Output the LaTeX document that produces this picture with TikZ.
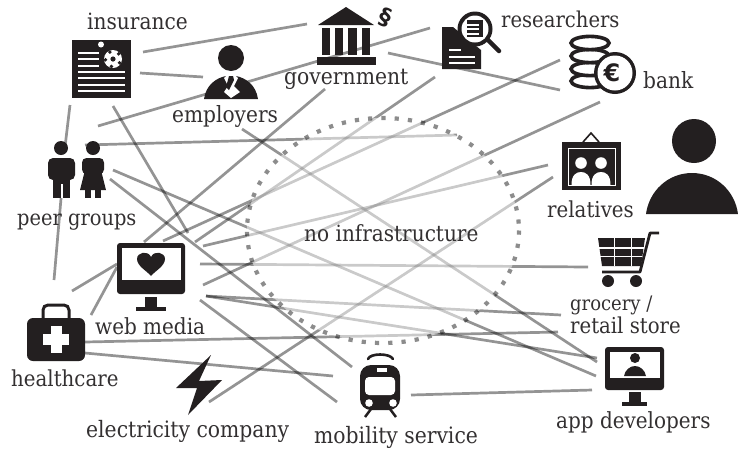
\documentclass[tikz,border=0pt]{standalone}
\usepackage{fontspec}
\setmainfont{DejaVu Serif Condensed}
\newfontfamily\symfont{DejaVu Sans}
\definecolor{ink}{HTML}{231F20}
\definecolor{labelink}{HTML}{333031}
\tikzset{
  link/.style={draw=black,opacity=.42,line width=2.7pt},
  haze/.style={fill=white,fill opacity=.5,draw=none},
  dotring/.style={draw=black,opacity=.45,line width=4.2pt,dash pattern=on 4.2pt off 9.1pt},
  solid ink/.style={fill=ink,draw=none},
  knock/.style={fill=white,draw=none},
  lab/.style={text=labelink,inner sep=0pt,anchor=base west,font=\fontsize{#1}{#1}\selectfont},
  lab/.default=22
}
\begin{document}
\begin{tikzpicture}[x=1pt,y=-1pt]
\useasboundingbox (0,0) rectangle (738,448);
% connector ends
\coordinate (insA) at (143,52);   \coordinate (govA) at (307,24);
\coordinate (insB) at (140,73);   \coordinate (empA) at (203,77);
\coordinate (insC) at (70,105);   \coordinate (prC)  at (65,147);
\coordinate (insD) at (98,126);   \coordinate (resD) at (430,28);
\coordinate (insE) at (113,106);  \coordinate (webE) at (188,233);
\coordinate (prF)  at (85,145);   \coordinate (zoF)  at (457,135);
\coordinate (empG) at (242,129);  \coordinate (appG) at (597,362);
\coordinate (govH) at (325,89);   \coordinate (webH) at (144,242);
\coordinate (resI) at (388,53);   \coordinate (bnkI) at (560,90);
\coordinate (resJ) at (435,77);   \coordinate (webJ) at (195,242);
\coordinate (webK) at (163,241);  \coordinate (bnkK) at (560,60);
\coordinate (webL) at (203,246);  \coordinate (relL) at (548,165);
\coordinate (webM) at (203,285);  \coordinate (bnkM) at (600,102);
\coordinate (webN) at (200,264);  \coordinate (groN) at (588,267);
\coordinate (webO) at (206,296);  \coordinate (groO) at (561,315);
\coordinate (webP) at (206,296);  \coordinate (appP) at (597,358);
\coordinate (webQ) at (200,300);  \coordinate (traQ) at (337,402);
\coordinate (prR)  at (113,170);  \coordinate (appR) at (596,376);
\coordinate (prS)  at (110,179);  \coordinate (traS) at (352,367);
\coordinate (prT)  at (62,187);   \coordinate (hltT) at (54,280);
\coordinate (hltU) at (72,291);   \coordinate (webU) at (117,264);
\coordinate (hltV) at (91,315);   \coordinate (webV) at (117,267);
\coordinate (hltW) at (85,342);   \coordinate (groW) at (558,332);
\coordinate (hltX) at (85,353);   \coordinate (traX) at (333,376);
\coordinate (eleY) at (209,402);  \coordinate (relY) at (553,177);
\coordinate (traZ) at (411,395);  \coordinate (appZ) at (592,390);
% connectors
\foreach \a/\b in {insA/govA,insB/empA,insC/prC,insD/resD,insE/webE,prF/zoF,empG/appG,govH/webH,resI/bnkI,resJ/webJ,webK/bnkK,webL/relL,webM/bnkM,webN/groN,webO/groO,webP/appP,webQ/traQ,prR/appR,prS/traS,prT/hltT,hltU/webU,hltV/webV,hltW/groW,hltX/traX,eleY/relY,traZ/appZ}
  \path[link] (\a) -- (\b);
% lightening of everything inside the zone, then its dotted outline
\path[haze] (383,230.5) ellipse [x radius=136,y radius=112.5];
\path[dotring] (383,230.5) ellipse [x radius=136,y radius=112.5];

% insurance
\path[solid ink] (72,40) rectangle (131,98);
\path[knock] (101,44.5) circle (3);
\foreach \yy/\xx in {52/99,58/99,65/99,71/125,77/125,84/125,90/125}
  \path[knock] (78,\yy) rectangle (\xx,\yy+2.4);
\path[knock] (113,59) circle (9);
\path[solid ink] (113,59) circle (2.6);
\foreach \ang in {30,102,174,246,318}
  \path[solid ink] (113,59) ++(\ang:7.6) circle (1.9);
% employers
\path[solid ink] (231,58) circle (13);
\path[solid ink] (204,99) .. controls (206,85) and (216,78) .. (226,76) -- (236,76) .. controls (246,78) and (256,85) .. (258,99) -- cycle;
\path[knock] (226,76) -- (236,76) -- (238,78) -- (234,86) -- (240,92) -- (231,98) -- (224,92) -- (228,86) -- (224,78) -- cycle;
\path[solid ink] (229,76) -- (233,76) -- (234,80) -- (229,90) -- (226,87) -- cycle;
% government
\path[solid ink] (346,7) -- (374,25) -- (318,25) -- cycle;
\foreach \xa/\xb in {322/330,335/343,348/357,362/370}
  \path[solid ink] (\xa,28) rectangle (\xb,55);
\path[solid ink] (317,57) rectangle (376,65);
\node (para) at (385,17) [text=ink,rotate=-20,inner sep=0pt,font=\fontsize{23}{23}\selectfont\bfseries\symfont] {§};
% researchers
\path[solid ink] (442,27) -- (453,27) -- (481,50) -- (481,69) -- (442,69) -- cycle;
\foreach \yy/\xx in {49/461,56/475,62/475}
  \path[knock] (449,\yy) rectangle (\xx,\yy+2.4);
\path[draw=ink,line width=4.5pt,line cap=round] (488,40) -- (499,51);
\path[solid ink] (475,29) circle (17.5);
\path[knock] (475,29) circle (13.5);
\path[solid ink] (467,20) rectangle (483,37);
\foreach \yy in {24,28,33} \path[knock] (467,\yy) rectangle (479,\yy+1.8);
% bank
\foreach \yy in {81,69,56,43}
  \path[fill=white,draw=ink,line width=3.6pt] (590,\yy) ellipse [x radius=19,y radius=6.6];
\path[solid ink] (615,73) circle (21);
\path[knock] (615,73) circle (17.5);
\node (euro) at (612,73) [text=ink,inner sep=0pt,font=\fontsize{24}{24}\selectfont\bfseries\symfont] {€};
% relatives
\path[draw=ink,line width=1.6pt,fill=white] (583,142) -- (591,133) -- (599,142);
\path[solid ink] (562,142) rectangle (621,190);
\path[draw=white,line width=1pt] (568,148) rectangle (615,185);
\foreach \xx in {581,601} {
  \path[knock] (\xx,163) circle (5.8);
  \path[knock] (\xx-9.5,185) .. controls (\xx-9.5,175) and (\xx-5,172) .. (\xx,172) .. controls (\xx+5,172) and (\xx+9.5,175) .. (\xx+9.5,185) -- cycle;
}
% person at the right edge
\path[solid ink] (694,141) circle (22);
\path[solid ink] (646,214) .. controls (649,191) and (668,173) .. (692,173) .. controls (716,173) and (735,191) .. (738,214) -- cycle;
% peer groups
\path[solid ink] (61,148) circle (7);
\path[solid ink,rounded corners=5pt] (48,180) -- (48,158) -- (75,158) -- (75,180) -- cycle;
\path[solid ink] (53,170) rectangle (70,198);
\path[knock] (60.5,184) rectangle (62.5,198);
\path[solid ink] (93,148) circle (7);
\path[solid ink,rounded corners=4.5pt] (82,158) rectangle (104,174);
\path[solid ink] (85,170) -- (101,170) -- (106,190) -- (80,190) -- cycle;
\path[solid ink] (85,188) rectangle (91,198);
\path[solid ink] (95,188) rectangle (101,198);
% web media
\path[solid ink,rounded corners=3pt] (117,243) rectangle (185,294);
\path[knock] (122,248) rectangle (181,280);
\path[solid ink] (151,276) .. controls (147,271) and (137,266) .. (137,259) .. controls (137,252) and (148,250) .. (151,257) .. controls (154,250) and (165,252) .. (165,259) .. controls (165,266) and (155,271) .. (151,276) -- cycle;
\path[solid ink] (145,297) rectangle (157,308);
\path[solid ink] (136,307) rectangle (166,311);
% healthcare
\path[draw=ink,line width=3pt,rounded corners=5pt] (43,319) -- (43,305) -- (69,305) -- (69,319);
\path[solid ink,rounded corners=6pt] (27,318) rectangle (85,361);
\path[knock] (50.5,326) rectangle (61.5,353);
\path[knock] (43,334) rectangle (69,345);
% electricity company
\path[solid ink] (211,355) -- (199,381) -- (222,380) -- (188,415) -- (197,388) -- (176,388) -- cycle;
% mobility service
\path[draw=ink,line width=2.6pt,line cap=round] (368,359) .. controls (370,353) and (390,353) .. (393,359);
\path[solid ink,rounded corners=11pt] (360,365) rectangle (400,410);
\path[knock,rounded corners=4pt] (365,377) rectangle (395,395);
\path[knock] (377,368) rectangle (387,372);
\path[knock] (369,403) circle (3.8);
\path[knock] (393,403) circle (3.8);
\path[draw=ink,line width=2.5pt] (371,409) -- (365,417);
\path[draw=ink,line width=2.5pt] (390,409) -- (396,417);
% grocery cart
\path[solid ink] (598,238) -- (645,238) -- (641,266) -- (602,266) -- cycle;
\foreach \xx in {613.5,630.5} \path[knock] (\xx,238) rectangle (\xx+1.6,266);
\foreach \yy in {247,255.5} \path[knock] (596,\yy) rectangle (646,\yy+1.6);
\path[draw=ink,line width=2.8pt,line join=round] (659,233) -- (650,233) -- (640,272) -- (602,272);
\path[solid ink] (608,281) circle (6);
\path[solid ink] (636,281) circle (6);
% app developers
\path[solid ink,rounded corners=3pt] (605,347) rectangle (664,390);
\path[knock] (610,352) rectangle (660,378);
\path[solid ink] (635,358) circle (5);
\path[solid ink] (624,376) .. controls (625,370) and (630,366) .. (635,366) .. controls (640,366) and (645,370) .. (646,376) -- cycle;
\path[solid ink] (629,392) rectangle (641,403);
\path[solid ink] (622,402) rectangle (647,406);

% labels
\node (tIns) [lab=22.4] at (87,29) {insurance};
\node (tGov) [lab=22.6] at (284,84) {government};
\node (tEmp) [lab=22.4] at (172,122) {employers};
\node (tPeer) [lab=21.6] at (17,225) {peer groups};
\node (tRes) [lab=21.8] at (501,27) {researchers};
\node (tBank) [lab=22.4] at (643,88) {bank};
\node (tRel) [lab=22] at (547,217) {relatives};
\node (tZone) [lab=22.3] at (304,241) {no infrastructure};
\node (tGro) [lab=20] at (570,310) {grocery /};
\node (tRet) [lab=21.9] at (570,333) {retail store};
\node (tWeb) [lab=22.2] at (95,334) {web media};
\node (tHlt) [lab=22] at (11,386) {healthcare};
\node (tEle) [lab=22.6] at (86,437) {electricity company};
\node (tMob) [lab=22.6] at (314,443) {mobility service};
\node (tApp) [lab=22.2] at (556,428) {app developers};
\end{tikzpicture}
\end{document}
